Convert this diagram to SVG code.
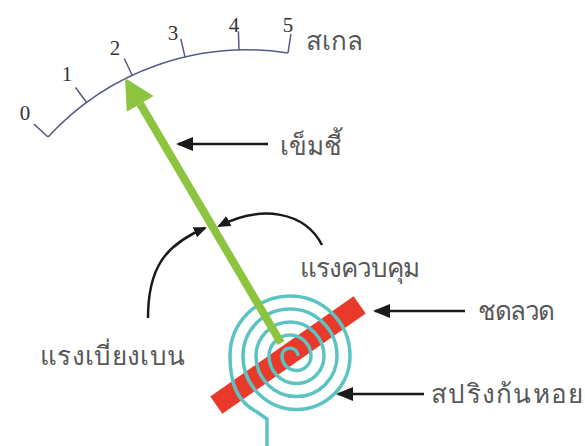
<svg xmlns="http://www.w3.org/2000/svg" width="585" height="446" viewBox="0 0 585 446">
  <style>
    .scale { fill: none; stroke: #565a88; stroke-width: 1.5; }
    .num { font-family: "Liberation Serif", serif; font-size: 21px; fill: #333; text-anchor: middle; }
    .lbl { font-family: "Noto Sans", "DejaVu Sans", sans-serif; font-size: 26px; fill: #585858; }
    .lead { fill: none; stroke: #1a1a1a; stroke-width: 2.5; }
    .spring { fill: none; stroke: #5cc3c3; stroke-width: 3.5; }
  </style>
  <defs>
    <marker id="head" markerUnits="userSpaceOnUse" markerWidth="18" markerHeight="14" refX="15" refY="7" orient="auto">
      <path d="M0,0 L17,7 L0,14 Z" fill="#1a1a1a"/>
    </marker>
    <marker id="headSmall" markerUnits="userSpaceOnUse" markerWidth="14" markerHeight="11" refX="11" refY="5.5" orient="auto">
      <path d="M0,0 L13,5.5 L0,11 Z" fill="#1a1a1a"/>
    </marker>
  </defs>

  <rect width="585" height="446" fill="#fff"/>

  <!-- meter scale -->
  <g id="scale">
    <path class="scale" d="M48,137 A270,270 0 0 1 288,53"/>
    <path class="scale" d="M48,137 L34,124.1 M86.8,102.8 L75.5,87.5 M132.4,75.7 L124.3,58.5 M185.1,57.3 L180.8,38.8 M239,50.3 L238.4,31.3 M288,53 L290.9,34.2"/>
    <text class="num" x="25" y="120">0</text>
    <text class="num" x="67" y="81">1</text>
    <text class="num" x="115" y="55">2</text>
    <text class="num" x="173" y="40">3</text>
    <text class="num" x="234" y="32">4</text>
    <text class="num" x="288" y="32">5</text>
    <text class="lbl" x="306" y="50" font-size="28">สเกล</text>
  </g>

  <!-- wire frame (coil) -->
  <g id="coil">
    <rect x="-87.5" y="-10.5" width="175" height="21" fill="#e8392a" transform="translate(288,355) rotate(-35)"/>
  </g>

  <!-- spiral spring -->
  <g id="spring">
    <path class="spring" d="M298,356
      A8,8 0 0 0 282,356
      A14.5,14.5 0 0 0 311,356
      A21,21 0 0 0 269,356
      A27.5,27.5 0 0 0 324,356
      A34,34 0 0 0 256,356
      A40.5,40.5 0 0 0 337,356
      A47,47 0 0 0 243,356
      A53.5,53.5 0 0 0 350,356
      A60,60 0 0 0 230,356
      C230,385 238,402 257,412 L267,419 L267,446"/>
  </g>

  <!-- pointer -->
  <g id="pointer">
    <line x1="281" y1="343" x2="140.2" y2="103.9" stroke="#8cc43f" stroke-width="8"/>
    <polygon points="125,78 153.6,96.1 126.8,111.7" fill="#8cc43f"/>
  </g>

  <!-- connectors -->
  <g id="connectors">
    <path class="lead" d="M322,245 C305,212 262,204 219,226" marker-end="url(#headSmall)"/>
    <path class="lead" d="M148,318 C148,268 165,245 205,228" marker-end="url(#headSmall)"/>
    <line class="lead" x1="268" y1="144" x2="178" y2="144" marker-end="url(#head)"/>
    <line class="lead" x1="465" y1="311" x2="375" y2="311" marker-end="url(#head)"/>
    <line class="lead" x1="424" y1="394" x2="338" y2="394" marker-end="url(#head)"/>
  </g>

  <!-- labels -->
  <g id="labels">
    <text class="lbl" x="280" y="155">เข็มชี้</text>
    <text class="lbl" x="300" y="277" textLength="120" lengthAdjust="spacing">แรงควบคุม</text>
    <text class="lbl" x="478" y="320" textLength="77" lengthAdjust="spacing">ชดลวด</text>
    <text class="lbl" x="40" y="365" textLength="145" lengthAdjust="spacing">แรงเบี่ยงเบน</text>
    <text class="lbl" x="431" y="403" textLength="152" lengthAdjust="spacing">สปริงก้นหอย</text>
  </g>
</svg>
